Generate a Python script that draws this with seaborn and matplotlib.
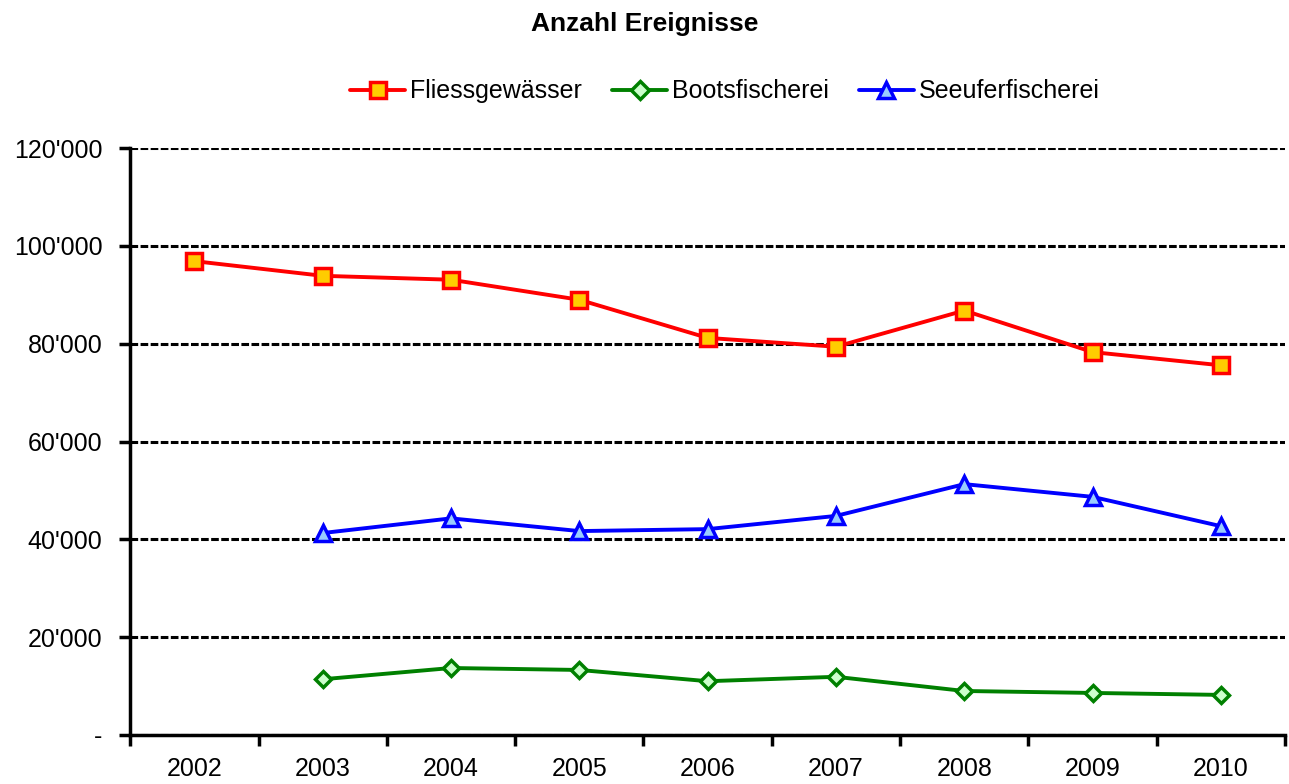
import pandas as pd
import matplotlib.pyplot as plt
import seaborn as sns
from matplotlib.ticker import FuncFormatter, FixedLocator

# Data
years = [2002, 2003, 2004, 2005, 2006, 2007, 2008, 2009, 2010]
fliess = [96900, 93900, 93100, 89000, 81200, 79400, 86800, 78300, 75600]
boots_years = [2003, 2004, 2005, 2006, 2007, 2008, 2009, 2010]
boots = [11400, 13700, 13300, 11000, 11900, 9000, 8600, 8200]
seeufer_years = [2003, 2004, 2005, 2006, 2007, 2008, 2009, 2010]
seeufer = [41300, 44300, 41700, 42100, 44800, 51300, 48700, 42700]

sns.set_style('white', {'xtick.bottom': True, 'ytick.left': True,
                        'text.color': 'black', 'xtick.color': 'black',
                        'ytick.color': 'black', 'axes.labelcolor': 'black'})
plt.rcParams['font.family'] = ['Liberation Sans', 'DejaVu Sans']

fig, ax = plt.subplots(figsize=(12.89, 7.84), dpi=100)
fig.subplots_adjust(left=0.101, right=0.997, top=0.811, bottom=0.0625)

series = [
    ('Fliessgewässer', years, fliess, '#FF0000', 's', '#FFCC00', 11),
    ('Bootsfischerei', boots_years, boots, '#008000', 'D', '#CCFFCC', 8),
    ('Seeuferfischerei', seeufer_years, seeufer, '#0000FF', '^', '#99CCFF', 11),
]
for name, xs, ys, col, mk, face, ms in series:
    df = pd.DataFrame({'Jahr': xs, 'Anzahl': ys})
    sns.lineplot(data=df, x='Jahr', y='Anzahl', ax=ax, color=col, linewidth=2.8,
                 marker=mk, markersize=ms, markerfacecolor=face,
                 markeredgecolor=col, markeredgewidth=2.5, label=name)

ax.set_xlim(2001.5, 2010.5)
ax.set_ylim(0, 120000)
ax.set_yticks(range(0, 120001, 20000))
ax.yaxis.set_major_formatter(FuncFormatter(
    lambda v, p: '-' if v == 0 else f'{int(v):,}'.replace(',', "'")))

# category ticks between years, labels at year centres
ax.xaxis.set_major_locator(FixedLocator([y - 0.5 for y in years] + [2010.5]))
ax.xaxis.set_minor_locator(FixedLocator(years))
ax.xaxis.set_major_formatter(FuncFormatter(lambda v, p: ''))
ax.xaxis.set_minor_formatter(FuncFormatter(lambda v, p: f'{int(round(v))}'))
ax.tick_params(axis='x', which='major', length=8, width=2.5, direction='out', color='black')
ax.tick_params(axis='x', which='minor', length=0, labelsize=18, pad=16, labelcolor='black')
ax.tick_params(axis='y', length=8, width=2.5, direction='out', color='black',
               labelsize=18, pad=12, labelcolor='black')

ax.grid(axis='y', color='black', linestyle=(0, (2.5, 0.8)), linewidth=2.2)
ax.set_axisbelow(True)
for s in ['top', 'right']:
    ax.spines[s].set_visible(False)
for s in ['left', 'bottom']:
    ax.spines[s].set_color('black')
    ax.spines[s].set_linewidth(2.5)

ax.set_xlabel('')
ax.set_ylabel('')
ax.legend(loc='center', bbox_to_anchor=(0.515, 1.097), ncol=3, frameon=False,
          fontsize=18, handlelength=2.2, handletextpad=0.2, columnspacing=1.2,
          markerscale=1.1)

fig.suptitle('Anzahl Ereignisse', fontsize=19, fontweight='bold', y=0.985, color='black')

plt.savefig('out.png', dpi=100)
plt.close()
